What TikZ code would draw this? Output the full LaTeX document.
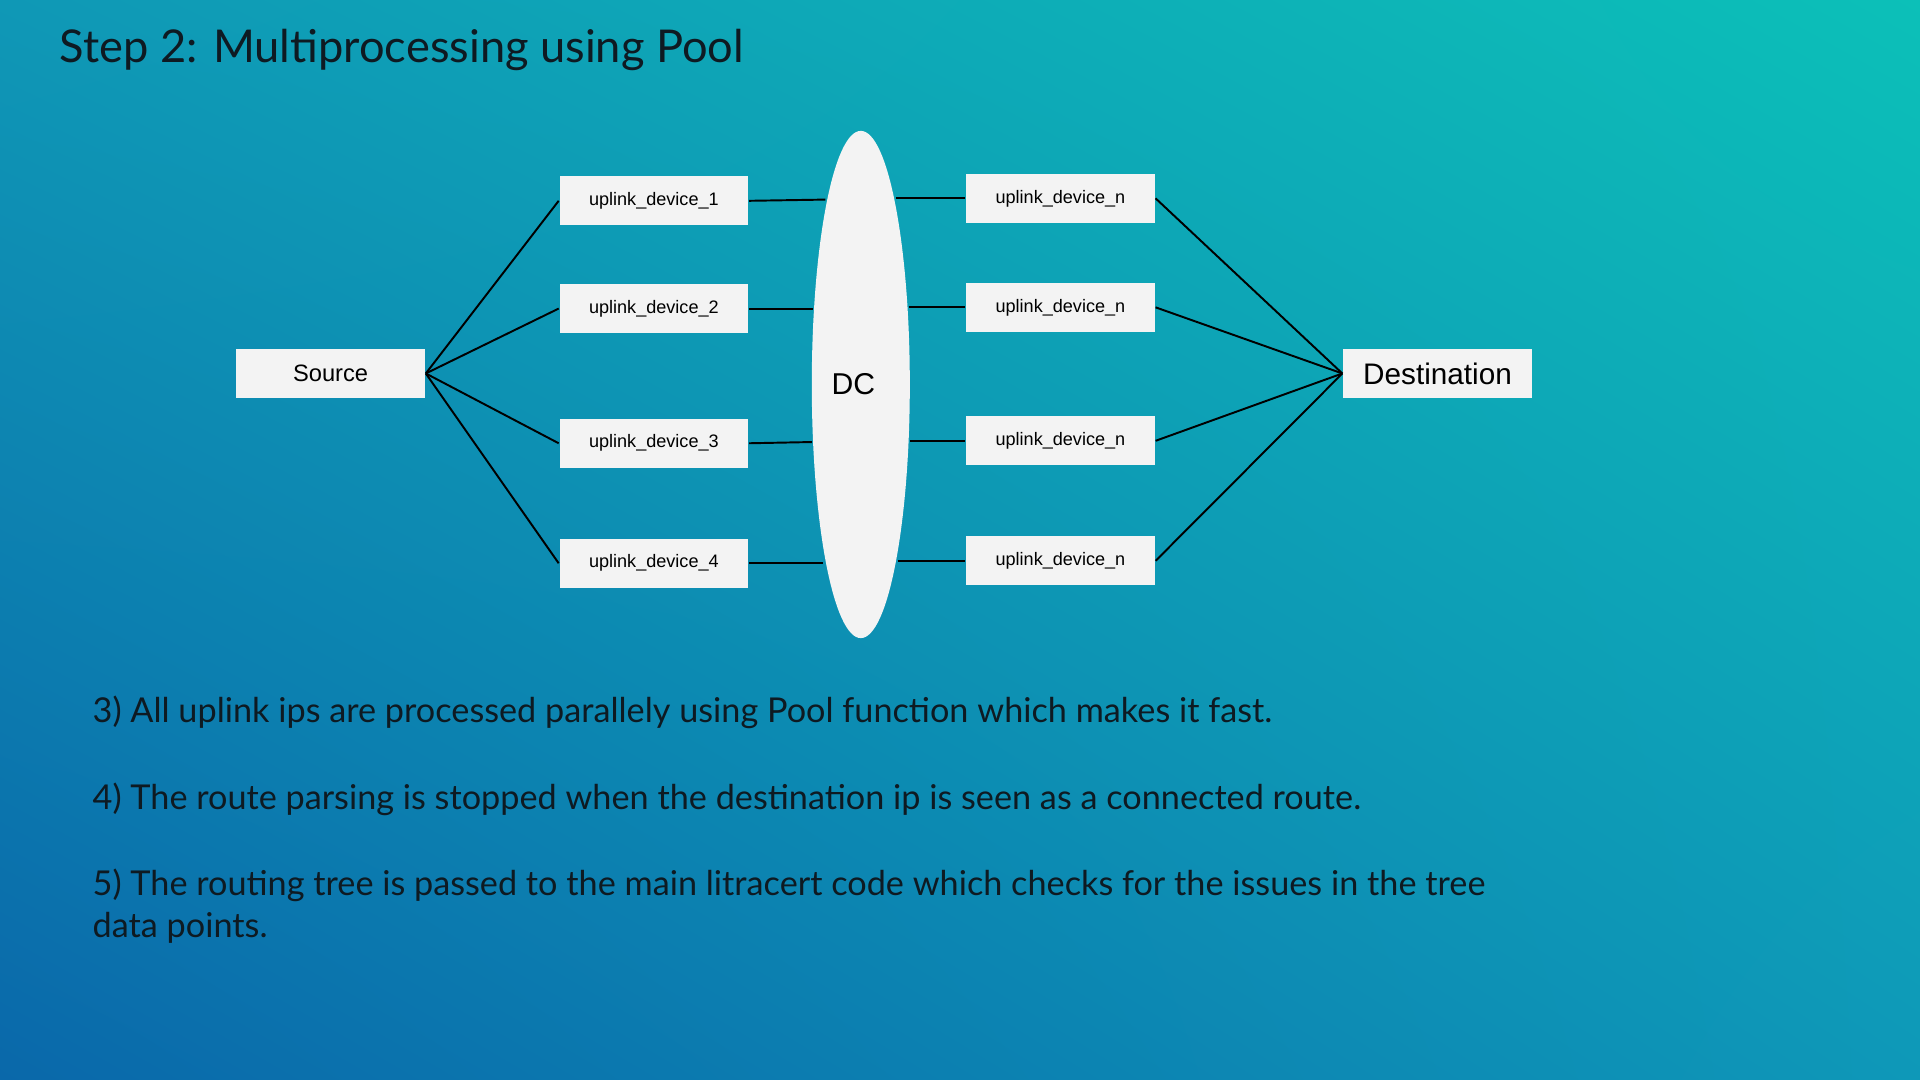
\documentclass[tikz,border=0pt]{standalone}
\usepackage{fontspec}
\setmainfont{Lato}
\newfontfamily\arialf{Liberation Sans}
\usetikzlibrary{shadings,shapes.geometric}
\definecolor{tl}{HTML}{0F98B6}
\definecolor{tr}{HTML}{0CC0B8}
\definecolor{bl}{HTML}{0A68AA}
\definecolor{br}{HTML}{0E98B8}
\definecolor{boxc}{HTML}{F3F3F3}
\definecolor{txt}{HTML}{0E1A22}
\tikzset{
  dev/.style={fill=boxc,minimum width=1.54cm,minimum height=0.40cm,inner sep=0pt,font=\arialf\fontsize{4.2}{5}\selectfont,text=black},
  big/.style={fill=boxc,minimum width=1.54cm,minimum height=0.40cm,inner sep=0pt,text=black},
  ln/.style={line width=0.45pt,black},
  para/.style={anchor=base west,text=txt,font=\fontsize{7.95}{11}\selectfont,inner sep=0pt}
}
\begin{document}
\begin{tikzpicture}[x=0.01cm,y=-0.01cm]
\shade[upper left=tl,upper right=tr,lower left=bl,lower right=br] (0,0) rectangle (1568,882);
\useasboundingbox (0,0) rectangle (1568,882);
\node[anchor=base west,text=txt,font=\fontsize{10.5}{12}\selectfont,inner sep=0pt] (title) at (48,51) {Step 2: Multiprocessing using Pool};
\node[big,font=\arialf\fontsize{5.5}{6}\selectfont] (src) at (270,305) {Source};
\node[big,font=\arialf\fontsize{6.9}{8}\selectfont] (dst) at (1174,305) {Destination};
\node[dev] (l1) at (534,164) {uplink\_device\_1};
\node[dev] (l2) at (534,252) {uplink\_device\_2};
\node[dev] (l3) at (534,362) {uplink\_device\_3};
\node[dev] (l4) at (534,460) {uplink\_device\_4};
\node[dev] (r1) at (866,162) {uplink\_device\_n};
\node[dev] (r2) at (866,251) {uplink\_device\_n};
\node[dev] (r3) at (866,360) {uplink\_device\_n};
\node[dev] (r4) at (866,458) {uplink\_device\_n};
\node[ellipse,fill=boxc,minimum width=0.80cm,minimum height=4.14cm,inner sep=0pt] (dc) at (703,314) {};
\node[font=\arialf\fontsize{7}{8}\selectfont,text=black] (dclab) at (697,314) {DC};
\foreach \n in {l1,l2,l3,l4} {\draw[ln] (src.east) -- (\n.west);}
\foreach \n in {r1,r2,r3,r4} {\draw[ln] (\n.east) -- (dst.west);}
\draw[ln] (l1.east) -- (674,163);
\draw[ln] (l2.east) -- (664,252);
\draw[ln] (l3.east) -- (663,361);
\draw[ln] (l4.east) -- (672,460);
\draw[ln] (732,162) -- (r1.west);
\draw[ln] (742,251) -- (r2.west);
\draw[ln] (743,360) -- (r3.west);
\draw[ln] (733,458) -- (r4.west);
\node[para] (p3) at (75,590) {3) All uplink ips are processed parallely using Pool function which makes it fast.};
\node[para] (p4) at (75,661) {4) The route parsing is stopped when the destination ip is seen as a connected route.};
\node[para] (p5) at (75,731) {5) The routing tree is passed to the main litracert code which checks for the issues in the tree};
\node[para] (p6) at (75,766) {data points.};
\end{tikzpicture}
\end{document}
